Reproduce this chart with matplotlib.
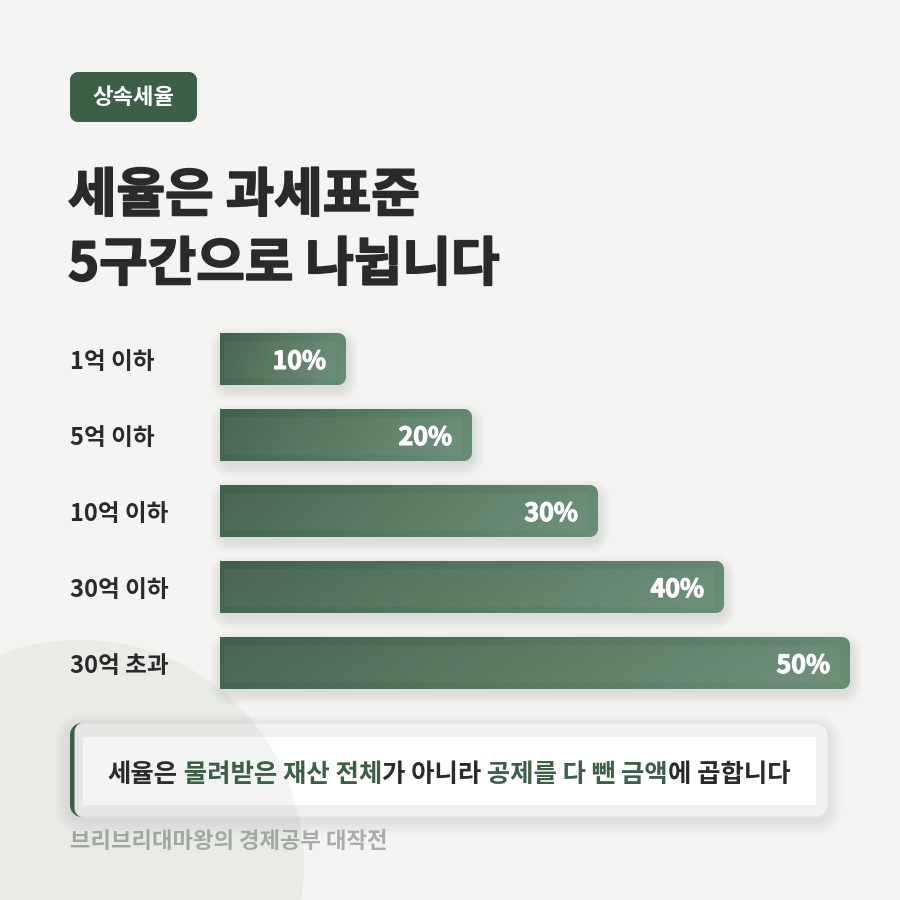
import numpy as np
import matplotlib
matplotlib.use("Agg")
import matplotlib.pyplot as plt
from matplotlib.path import Path
from matplotlib.patches import PathPatch, Circle
import matplotlib.transforms as mtransforms
import matplotlib.patheffects as pe
from matplotlib.colors import to_rgb

plt.rcParams['font.family'] = ['Noto Sans CJK KR', 'DejaVu Sans']

# ---------------- data ----------------
categories = ["1억 이하", "5억 이하", "10억 이하", "30억 이하", "30억 초과"]
rates = [10, 20, 30, 40, 50]
rate_labels = ["10%", "20%", "30%", "40%", "50%"]
badge_text = "상속세율"
title_lines = ["세율은 과세표준", "5구간으로 나뉩니다"]
note_segments = ["세율은", " 물려받은 재산 전체", "가 아니라", " 공제를 다 뺀 금액", "에 곱합니다"]
note_highlight = [False, True, False, True, False]
footer_text = "브리브리대마왕의 경제공부 대작전"

# ---------------- style ----------------
BG = "#f4f4f2"
GREEN = "#3d5e47"
DARK = "#2a2a2a"
GRAD_L = "#40604a"
GRAD_R = "#6b8e76"

W = H = 900
fig = plt.figure(figsize=(9, 9), dpi=100, facecolor=BG)
bg = fig.add_axes([0, 0, 1, 1])
bg.set_xlim(0, W)
bg.set_ylim(H, 0)
bg.set_autoscale_on(False)
bg.axis("off")
bg.set_facecolor(BG)

# bar axes: x 220..850 px, rows centred 359 + 76*i
ax_left, ax_right = 220, 850
row_pitch = 76
first_center = 359
ax_top = first_center - row_pitch / 2
ax_bot = first_center + row_pitch * (len(categories) - 0.5)
ax = fig.add_axes([ax_left / W, 1 - ax_bot / H, (ax_right - ax_left) / W, (ax_bot - ax_top) / H])
ax.set_xlim(0, max(rates))
ax.set_ylim(len(categories) - 0.5, -0.5)
ax.axis("off")
ax.patch.set_alpha(0)

K = 0.5523


def rpath(x0, y0, x1, y1, rtl, rtr, rbr, rbl):
    v = [(x0 + rtl, y0), (x1 - rtr, y0),
         (x1 - rtr + K * rtr, y0), (x1, y0 + rtr - K * rtr), (x1, y0 + rtr),
         (x1, y1 - rbr),
         (x1, y1 - rbr + K * rbr), (x1 - rbr + K * rbr, y1), (x1 - rbr, y1),
         (x0 + rbl, y1),
         (x0 + rbl - K * rbl, y1), (x0, y1 - rbl + K * rbl), (x0, y1 - rbl),
         (x0, y0 + rtl),
         (x0, y0 + rtl - K * rtl), (x0 + rtl - K * rtl, y0), (x0 + rtl, y0),
         (x0 + rtl, y0)]
    c = [Path.MOVETO, Path.LINETO,
         Path.CURVE4, Path.CURVE4, Path.CURVE4,
         Path.LINETO,
         Path.CURVE4, Path.CURVE4, Path.CURVE4,
         Path.LINETO,
         Path.CURVE4, Path.CURVE4, Path.CURVE4,
         Path.LINETO,
         Path.CURVE4, Path.CURVE4, Path.CURVE4,
         Path.CLOSEPOLY]
    return Path(v, c)


def add_path(path, **kw):
    p = PathPatch(path, transform=bg.transData, **kw)
    bg.add_patch(p)
    return p


# ---------------- badge ----------------
add_path(rpath(70, 72, 197, 122, 8, 8, 8, 8), facecolor=GREEN, edgecolor="none", zorder=3)
bg.text(133.5, 98, badge_text, ha="center", va="center", color="white",
        fontsize=16, fontweight="bold", zorder=4)

# ---------------- title ----------------
heavy = [pe.withStroke(linewidth=1.3, foreground=DARK)]
bg.text(68, 196, title_lines[0], ha="left", va="center", color=DARK,
        fontsize=38, fontweight="bold", zorder=4, path_effects=heavy)
bg.text(68, 265, title_lines[1], ha="left", va="center", color=DARK,
        fontsize=38, fontweight="bold", zorder=4, path_effects=heavy)

# ---------------- bars ----------------
bars = ax.barh(range(len(categories)), rates, height=52 / row_pitch, color="none", edgecolor="none")

cl = np.array(to_rgb(GRAD_L))
cr = np.array(to_rgb(GRAD_R))
for i, bar in enumerate(bars):
    bb = bar.get_bbox()
    pts = ax.transData.transform([[bb.x0, bb.y0], [bb.x1, bb.y1]])
    pts = bg.transData.inverted().transform(pts)
    x0, x1 = sorted(pts[:, 0])
    y0, y1 = sorted(pts[:, 1])
    r = 8
    # soft shadow
    for j in range(8):
        e = 1 + j * 1.6
        add_path(rpath(x0 - e + 2, y0 - e + 7, x1 + e, y1 + e + 4, r + e, r + e, r + e, r + e),
                 facecolor="#40584a", edgecolor="none", alpha=0.015, zorder=2)
    shape = rpath(x0, y0, x1, y1, 0, r, r, 0)
    clip = PathPatch(shape, transform=bg.transData, facecolor="none", edgecolor="none")
    bg.add_patch(clip)
    tx = np.linspace(0, 1, 200)[None, :]
    ty = np.linspace(0, 1, 40)[:, None]
    t = np.clip(0.88 * tx + 0.12 * ty, 0, 1)
    img = cl[None, None, :] * (1 - t[..., None]) + cr[None, None, :] * t[..., None]
    im = bg.imshow(img, extent=(x0, x1, y1, y0), origin="upper", aspect="auto",
                   interpolation="bilinear", zorder=3)
    im.set_clip_path(clip)
    # inner highlight
    add_path(rpath(x0 + 4, y0 + 8, x1 - 10, y1 - 6, 0, 3, 3, 0),
             facecolor="white", edgecolor="none", alpha=0.045, zorder=3.5)

off = mtransforms.offset_copy(ax.transData, fig=fig, x=-20, y=-3, units="dots")
for i, (v, lab) in enumerate(zip(rates, rate_labels)):
    ax.text(v, i, lab, transform=off, ha="right", va="center", color="white",
            fontsize=18, fontweight="bold", zorder=5,
            path_effects=[pe.withStroke(linewidth=0.8, foreground="white")])

lab_tr = mtransforms.offset_copy(
    mtransforms.blended_transform_factory(bg.transData, ax.transData), fig=fig, x=0, y=-3, units="dots")
for i, cat in enumerate(categories):
    ax.text(70, i, cat, transform=lab_tr, ha="left", va="center", color=DARK,
            fontsize=17, fontweight="bold", zorder=5)

# ---------------- callout ----------------
for j in range(8):
    e = 1 + j * 1.8
    add_path(rpath(70 - e, 723 - e + 5, 828 + e, 817 + e + 4, 12 + e, 12 + e, 12 + e, 12 + e),
             facecolor="#404040", edgecolor="none", alpha=0.01, zorder=2)
add_path(rpath(70, 723, 828, 817, 12, 12, 12, 12), facecolor=GREEN, edgecolor="none", zorder=3)
add_path(rpath(75, 723, 828, 817, 9, 12, 12, 9), facecolor="#f1f1f0", edgecolor="#e6e6e4",
         linewidth=0.8, zorder=3.2)
add_path(rpath(83, 737, 816, 805, 0, 0, 0, 0), facecolor="white", edgecolor="none", zorder=3.4)

renderer = fig.canvas.get_renderer()
texts = []
for seg, hl in zip(note_segments, note_highlight):
    t = bg.text(0, 782, seg, ha="left", va="baseline", color=GREEN if hl else DARK,
                fontsize=18.3, fontweight="bold", zorder=4)
    texts.append(t)
widths = [t.get_window_extent(renderer).width for t in texts]
x = 449 - sum(widths) / 2
for t, w in zip(texts, widths):
    t.set_x(x)
    x += w

# ---------------- footer ----------------
bg.text(70, 841, footer_text, ha="left", va="center", color="#a9aca8",
        fontsize=16, fontweight="bold", zorder=4)

# ---------------- decorative circle ----------------
bg.add_patch(Circle((80, 864), 224, transform=bg.transData, facecolor=GREEN,
                    edgecolor="none", alpha=0.06, zorder=50))

bg.set_xlim(0, W)
bg.set_ylim(H, 0)
fig.savefig("out.png", dpi=100, facecolor=BG)
